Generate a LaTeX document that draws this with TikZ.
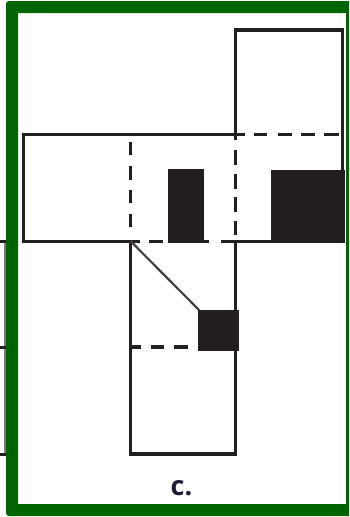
\documentclass[tikz,border=0pt]{standalone}
\usepackage{fontspec}
\setmainfont{Open Sans}
\definecolor{ink}{HTML}{231F20}
\definecolor{frame}{HTML}{006400}
\tikzset{
  solidline/.style={draw=ink,line width=3.9pt,line cap=butt,line join=miter},
  dashline/.style={draw=ink,line width=3.9pt,line cap=butt},
  blackbox/.style={fill=ink,draw=none},
  thinline/.style={draw=ink!85,line width=2.2pt},
  stubline/.style={draw=ink,line width=3pt}
}
\begin{document}
\begin{tikzpicture}[x=1pt,y=-1pt]
\useasboundingbox (0,0) rectangle (349,517);
\clip (0,0) rectangle (349,517);
\fill[white] (0,0) rectangle (349,517);
% left stub lines
\draw[stubline,draw=ink!60,line width=2pt] (5.2,241) -- (5.2,454);
\draw[stubline] (0,241) -- (6,241) (0,347) -- (6,347) (0,454) -- (6,454);
% top square and horizontal band
\draw[solidline] (235.5,135) -- (235.5,30) -- (342.5,30) -- (342.5,172);
\draw[solidline] (235.5,134.5) -- (23.5,134.5) -- (23.5,241.5) -- (131.8,241.5);
\draw[solidline] (221,241.5) -- (272,241.5);
\draw[solidline] (209,241.5) -- (204,241.5);
% lower arm
\draw[solidline] (130.5,240) -- (130.5,454) -- (236.5,454);
\draw[solidline] (235.5,455.9) -- (235.5,241);
% dashes
\draw[dashline] (235.5,134.5) -- (245,134.5) (254,134.5) -- (267,134.5) (278,134.5) -- (292,134.5) (301,134.5) -- (315,134.5) (324,134.5) -- (339,134.5);
\draw[dashline] (130.5,142) -- (130.5,155) (130.5,166) -- (130.5,180) (130.5,190) -- (130.5,203) (130.5,214) -- (130.5,227);
\draw[dashline] (235.5,134) -- (235.5,140) (235.5,150) -- (235.5,165) (235.5,174) -- (235.5,189) (235.5,197) -- (235.5,212) (235.5,221) -- (235.5,235);
\draw[dashline] (130,241.5) -- (140,241.5) (149,241.5) -- (163,241.5);
\draw[dashline] (130.5,347) -- (141,347) (151,347) -- (164,347) (174,347) -- (188,347);
% diagonal
\draw[thinline] (130.5,241) -- (199,310);
% filled boxes
\fill[blackbox] (168,169) rectangle (204,243);
\fill[blackbox] (271,170) rectangle (344.5,243);
\fill[blackbox] (198,309.5) rectangle (239,350.5);
% frame
\fill[frame,even odd rule,rounded corners=0pt] (18,13) rectangle (346,504)
  [rounded corners=3pt] (6,1) rectangle (370,516);
\fill[frame] (346,1) rectangle (349,516);
\node[text=ink!90!blue,font=\fontsize{27}{27}\selectfont\bfseries,inner sep=0pt] (label) at (181.5,488.5) {c.};
\end{tikzpicture}
\end{document}
